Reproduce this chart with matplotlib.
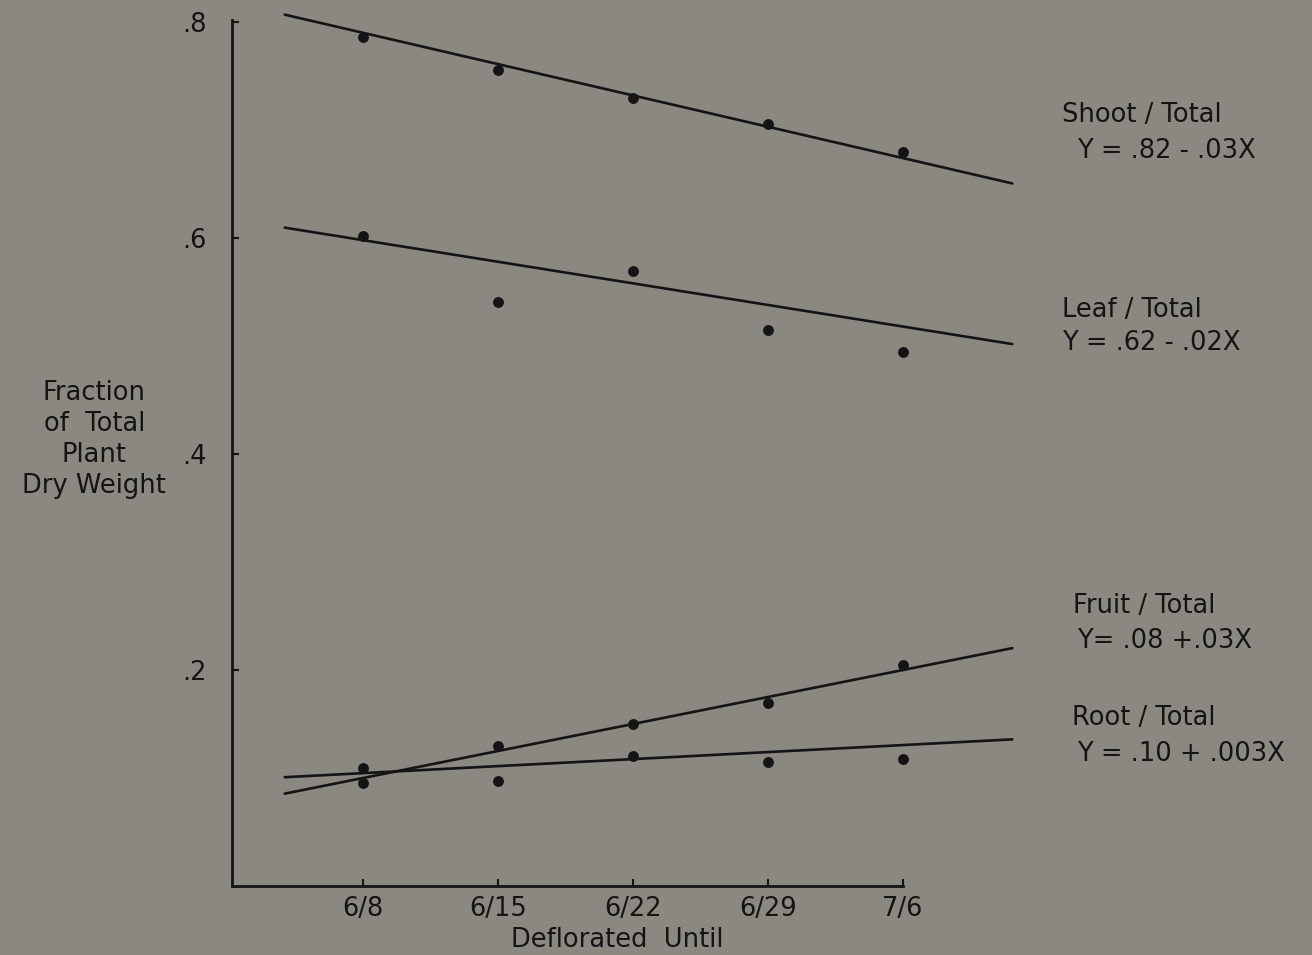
import matplotlib.pyplot as plt
import matplotlib.transforms as mtransforms
import numpy as np

# Harvest dates (deflorated until) and fractions of total plant dry weight
dates = ["6/8", "6/15", "6/22", "6/29", "7/6"]
shoot = [0.786, 0.756, 0.730, 0.706, 0.680]
leaf = [0.602, 0.541, 0.569, 0.515, 0.494]
fruit = [0.095, 0.130, 0.150, 0.169, 0.205]
root = [0.109, 0.097, 0.120, 0.115, 0.118]

# Fitted regression lines (intercept, slope) as drawn
intercepts = [0.819, 0.618, 0.075, 0.098]
slopes = [-0.029, -0.020, 0.025, 0.0065]
fit_x = [0.42, 5.81]

names = ["Shoot / Total", "Leaf / Total", "Fruit / Total", "Root / Total"]
equations = ["Y = .82 - .03X", "Y = .62 - .02X", "Y= .08 +.03X", "Y = .10 + .003X"]

bg = "#8b8781"
ink = "#141414"
fs = 18.5
plt.rcParams['font.family'] = ['DejaVu Sans']

fig = plt.figure(figsize=(13.12, 9.55), dpi=100, facecolor=bg)
ax = fig.add_axes([232 / 1312, 69 / 955, 1 - 232 / 1312, 886 / 955])
ax.set_facecolor(bg)

x = np.arange(1, len(dates) + 1)
for vals in (shoot, leaf, fruit, root):
    ax.plot(x, vals, "o", color=ink, markersize=6.8)

xx = np.array(fit_x)
for b0, b1 in zip(intercepts, slopes):
    ax.plot(xx, b0 + b1 * xx, color=ink, lw=1.9, solid_capstyle="round")

ax.set_xlim(1 - 131 / 135, 1 + (1312 - 363) / 135)
ax.set_ylim(0, 886 / 1080)

for s in ("top", "right"):
    ax.spines[s].set_visible(False)
ax.spines["left"].set_bounds(0, 0.802)
ax.spines["bottom"].set_bounds(1 - 131 / 135, 5)
for s in ("left", "bottom"):
    ax.spines[s].set_linewidth(2.0)
    ax.spines[s].set_color(ink)

ax.set_xticks(x)
ax.set_xticklabels(dates)
ax.set_yticks([0.2, 0.4, 0.6, 0.8])
ax.set_yticklabels([".2", ".4", ".6", ".8"])
ax.tick_params(axis="both", direction="in", length=5, width=1.5, color=ink,
               labelcolor=ink, labelsize=fs)
ax.tick_params(axis="y", pad=18)
ax.tick_params(axis="x", pad=7)

# x-axis title sits under the dated part of the axis
xlab_tr = mtransforms.blended_transform_factory(ax.transData, ax.transAxes)
ax.text(2.88, -0.061, "Deflorated  Until", transform=xlab_tr, ha="center",
        va="center", fontsize=fs, color=ink, clip_on=False)

ax.text(-0.99, 0.413, "Fraction\nof  Total\nPlant\nDry Weight", ha="center",
        va="center", fontsize=fs, color=ink, linespacing=1.25, clip_on=False)

# Series names and equations to the right of the lines
name_pos = [(6.18, 0.714), (6.18, 0.533), (6.26, 0.259), (6.25, 0.156)]
eq_pos = [(6.29, 0.681), (6.18, 0.503), (6.29, 0.227), (6.29, 0.122)]
for n, e, (nx, ny), (ex, ey) in zip(names, equations, name_pos, eq_pos):
    ax.text(nx, ny, n, fontsize=fs, color=ink, va="center", ha="left")
    ax.text(ex, ey, e, fontsize=fs, color=ink, va="center", ha="left")

fig.savefig("out.png", dpi=100, facecolor=bg)
